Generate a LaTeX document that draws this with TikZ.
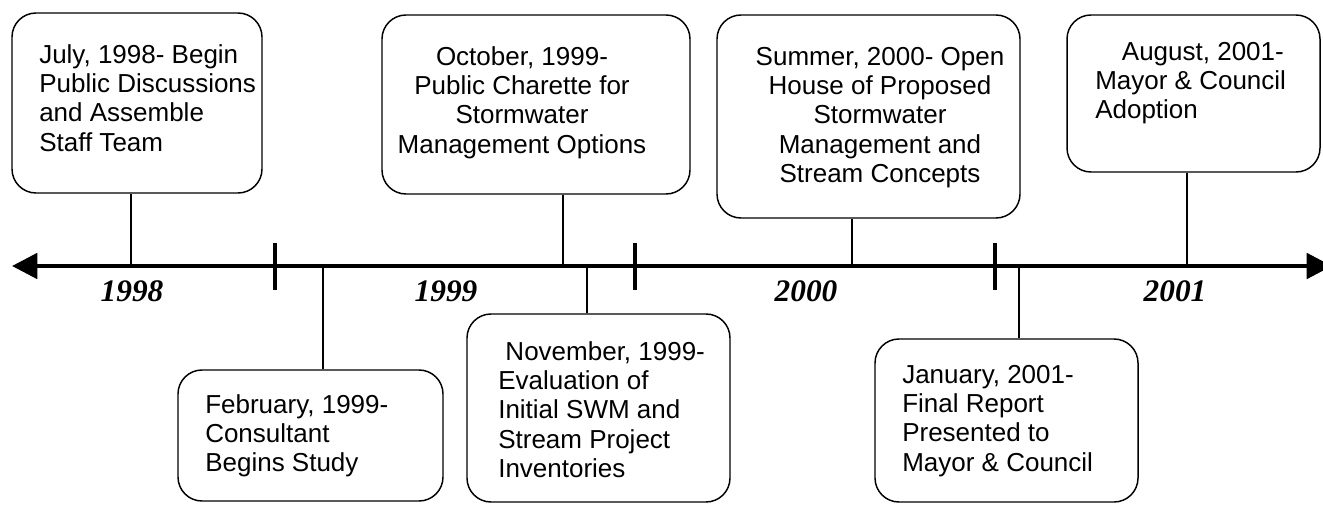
\documentclass[tikz,border=0pt]{standalone}
\usepackage{fontspec}
\setmainfont{Liberation Sans}
\newfontfamily\yearfont{Liberation Serif}
\usetikzlibrary{arrows.meta,fit}
\begin{document}
\begin{tikzpicture}[x=0.75pt,y=-0.75pt,
  evbox/.style={draw=black, line width=1.1pt, rounded corners=18pt, inner sep=0pt},
  evtext/.style={inner sep=0pt, font=\fontsize{19.5}{22}\selectfont},
  conn/.style={draw=black, line width=1pt},
  axisline/.style={draw=black, line width=3pt},
  tickmark/.style={draw=black, line width=3pt},
  yearlbl/.style={inner sep=0pt, anchor=base, font=\yearfont\bfseries\itshape\fontsize{23.5}{27}\selectfont}
]
\useasboundingbox (0,0) rectangle (1323,504);

% axis
\coordinate (L) at (12,266);
\coordinate (R) at (1332,266);
\draw[axisline,{Triangle[length=19pt,width=19pt]}-{Triangle[length=19pt,width=19pt]}] (L) -- (R);
\draw[tickmark] (275,243) -- (275,290);
\draw[tickmark] (635,243) -- (635,290);
\draw[tickmark] (995,243) -- (995,290);

% year labels
\node[yearlbl] (y1) at (132,301) {1998};
\node[yearlbl] (y2) at (446,301) {1999};
\node[yearlbl] (y3) at (806,301) {2000};
\node[yearlbl] (y4) at (1175,301) {2001};

% boxes
\node[evbox, fit={(12,13) (262,193)}] (b1) {};
\node[evbox, fit={(178,370) (443,501)}] (b2) {};
\node[evbox, fit={(382,15) (690,194)}] (b3) {};
\node[evbox, fit={(467,314) (730,502)}] (b4) {};
\node[evbox, fit={(717,15) (1020,218)}] (b5) {};
\node[evbox, fit={(875,339) (1138,502)}] (b6) {};
\node[evbox, fit={(1067,15) (1320,172)}] (b7) {};

% texts
\node[evtext, anchor=base west] (t1) at (39,63) {\begin{tabular}[t]{@{}l@{}}July, 1998- Begin\\Public Discussions\\and Assemble\\Staff Team\end{tabular}};
\node[evtext, anchor=base west] (t2) at (205,413) {\begin{tabular}[t]{@{}l@{}}February, 1999-\\Consultant\\Begins Study\end{tabular}};
\node[evtext, anchor=base] (t3) at (522,65) {\begin{tabular}[t]{@{}c@{}}October, 1999-\\Public Charette for\\Stormwater\\Management Options\end{tabular}};
\node[evtext, anchor=base west] (t4) at (498,360) {\begin{tabular}[t]{@{}l@{}}\ November, 1999-\\Evaluation of\\Initial SWM and\\Stream Project\\Inventories\end{tabular}};
\node[evtext, anchor=base] (t5) at (880,65) {\begin{tabular}[t]{@{}c@{}}Summer, 2000- Open\\House of Proposed\\Stormwater\\Management and\\Stream Concepts\end{tabular}};
\node[evtext, anchor=base west] (t6) at (902,383) {\begin{tabular}[t]{@{}l@{}}January, 2001-\\Final Report\\Presented to\\Mayor \& Council\end{tabular}};
\node[evtext, anchor=base west] (t7) at (1095,60) {\begin{tabular}[t]{@{}l@{}}\hspace*{20pt}August, 2001-\\Mayor \& Council\\Adoption\end{tabular}};

% connectors
\coordinate (a1) at (131,266);
\coordinate (a2) at (323,266);
\coordinate (a3) at (563,266);
\coordinate (a4) at (587,266);
\coordinate (a5) at (852,266);
\coordinate (a6) at (1019,266);
\coordinate (a7) at (1187,266);
\draw[conn] (b1.south -| a1) -- (a1);
\draw[conn] (b2.north -| a2) -- (a2);
\draw[conn] (b3.south -| a3) -- (a3);
\draw[conn] (b4.north -| a4) -- (a4);
\draw[conn] (b5.south -| a5) -- (a5);
\draw[conn] (b6.north -| a6) -- (a6);
\draw[conn] (b7.south -| a7) -- (a7);
\end{tikzpicture}
\end{document}
